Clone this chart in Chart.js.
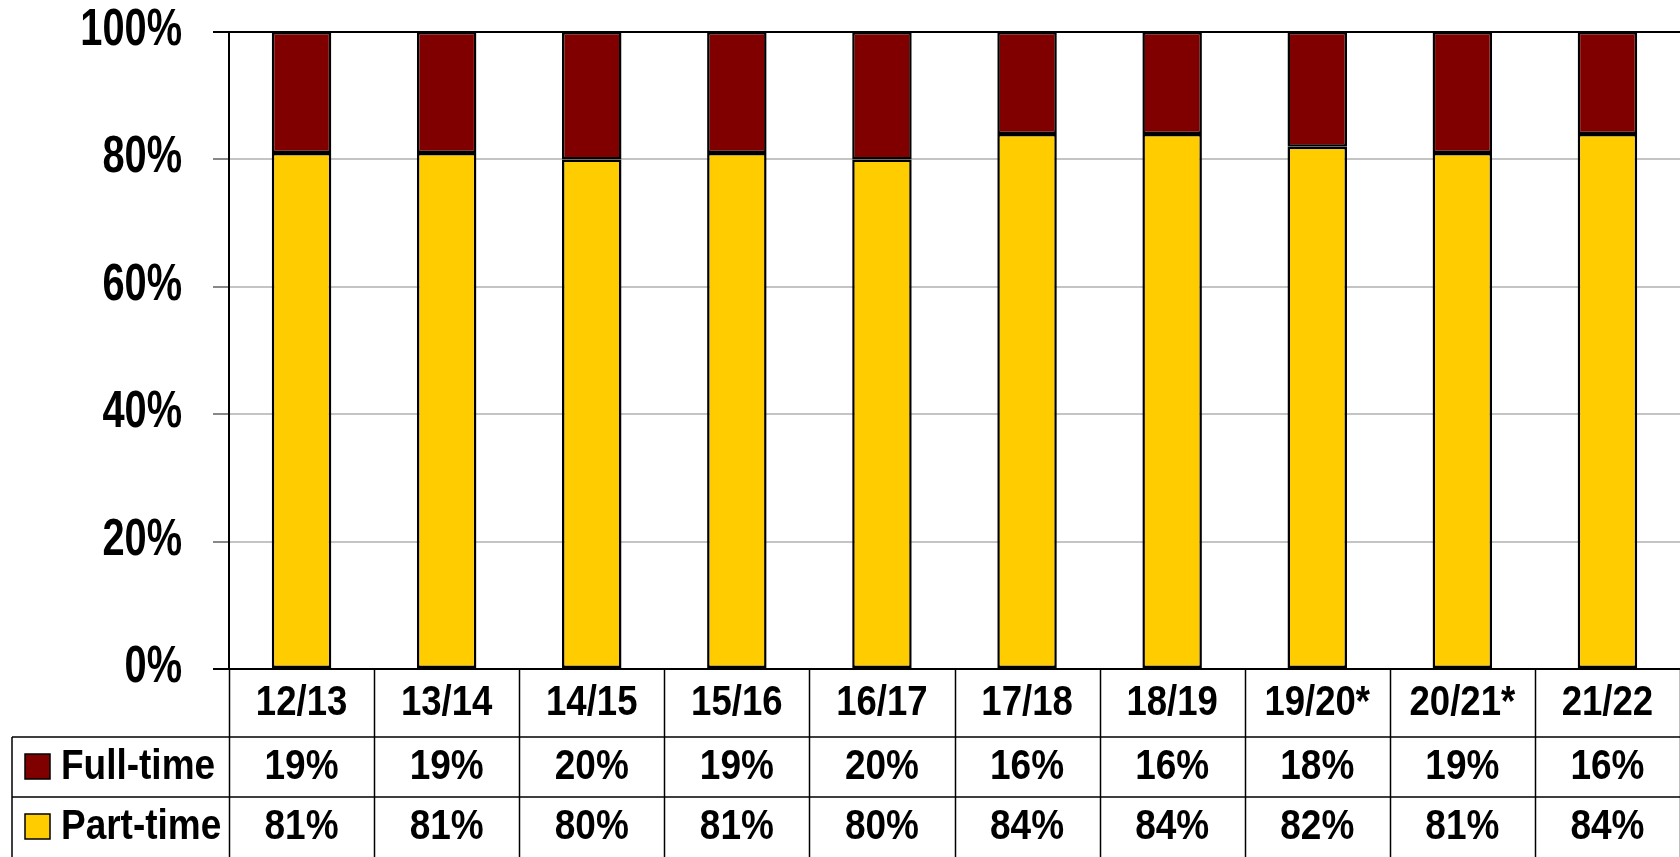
<!DOCTYPE html>
<html lang="en">
<head>
  <meta charset="UTF-8" />
  <title>Full-time / Part-time share</title>
  <script src="https://cdn.jsdelivr.net/npm/chart.js"></script>
  <style>
    body {
      margin: 0;
      background: #fff;
      overflow: hidden;
    }
    #wrap {
      width: 1680px;
      height: 857px;
      position: relative;
    }
  </style>
</head>
<body>
  <div id="wrap"><canvas id="shareChart"></canvas></div>

  <script>
    const categories = ['12/13', '13/14', '14/15', '15/16', '16/17', '17/18', '18/19', '19/20*', '20/21*', '21/22'];
    const fullTime = [19, 19, 20, 19, 20, 16, 16, 18, 19, 16];
    const partTime = [81, 81, 80, 81, 80, 84, 84, 82, 81, 84];
    const yTicks = [0, 20, 40, 60, 80, 100];

    const FONT = "'Liberation Sans', Arial, sans-serif";
    const RED = '#800000';
    const YELLOW = '#ffcc00';

    // narrow bold text (no Arial Narrow here, so squeeze Arial-metric glyphs)
    function narrowText(ctx, text, x, y, size, squeeze, align) {
      ctx.save();
      ctx.translate(x, y);
      ctx.scale(squeeze, 1);
      ctx.font = 'bold ' + size + 'px ' + FONT;
      ctx.textAlign = align;
      ctx.textBaseline = 'middle';
      ctx.fillStyle = '#000';
      ctx.fillText(text, 0, 0);
      ctx.restore();
    }

    // y labels + data table under the bars (categories, legend keys, values)
    const tablePlugin = {
      id: 'dataTable',
      afterDraw(chart) {
        const ctx = chart.ctx;
        const x = chart.scales.x;
        const y = chart.scales.y;
        const area = chart.chartArea;
        const top = area.bottom;
        const row1 = top + 68;
        const row2 = top + 128;
        const bottom = chart.height;
        const leftEdge = 12;
        const rightEdge = chart.width;
        const step = x.getPixelForValue(1) - x.getPixelForValue(0);

        // y tick labels
        y.ticks.forEach(t => {
          narrowText(ctx, t.value + '%', area.left - 47, y.getPixelForValue(t.value) - 1, 51, 0.78, 'right');
        });

        ctx.save();
        ctx.strokeStyle = '#000';
        ctx.lineWidth = 1.5;
        ctx.beginPath();
        ctx.moveTo(leftEdge, row1); ctx.lineTo(rightEdge, row1);
        ctx.moveTo(leftEdge, row2); ctx.lineTo(rightEdge, row2);
        ctx.moveTo(leftEdge, row1); ctx.lineTo(leftEdge, bottom);
        for (let i = 0; i <= categories.length; i++) {
          const bx = Math.round(x.getPixelForValue(i) - step / 2) + 0.5;
          ctx.moveTo(bx, top); ctx.lineTo(bx, bottom);
        }
        ctx.stroke();
        ctx.restore();

        // category row
        x.getLabels().forEach((lab, i) => {
          narrowText(ctx, lab, x.getPixelForValue(i), (top + row1) / 2, 43, 0.85, 'center');
        });

        const rows = [
          { label: 'Full-time', color: RED, values: fullTime, cy: (row1 + row2) / 2 },
          { label: 'Part-time', color: YELLOW, values: partTime, cy: (row2 + bottom) / 2 }
        ];
        rows.forEach(r => {
          ctx.save();
          ctx.fillStyle = r.color;
          ctx.fillRect(25, r.cy - 13, 25, 25);
          ctx.strokeStyle = '#000';
          ctx.lineWidth = 1.5;
          ctx.strokeRect(25, r.cy - 13, 25, 25);
          ctx.restore();
          narrowText(ctx, r.label, 61, r.cy, 43, 0.86, 'left');
          r.values.forEach((v, i) => {
            narrowText(ctx, v + '%', x.getPixelForValue(i), r.cy, 43, 0.86, 'center');
          });
        });
      }
    };

    new Chart(document.getElementById('shareChart'), {
      type: 'bar',
      data: {
        labels: categories,
        datasets: [
          {
            label: 'Part-time',
            data: partTime,
            backgroundColor: YELLOW,
            borderColor: '#000',
            borderWidth: 2.5,
            borderSkipped: false,
            barPercentage: 0.41,
            categoryPercentage: 1
          },
          {
            label: 'Full-time',
            data: fullTime,
            backgroundColor: RED,
            borderColor: '#000',
            borderWidth: 2.5,
            borderSkipped: false,
            barPercentage: 0.41,
            categoryPercentage: 1
          }
        ]
      },
      options: {
        responsive: true,
        maintainAspectRatio: false,
        animation: false,
        layout: { padding: { top: 32, left: 0, right: 0, bottom: 0 } },
        plugins: {
          legend: { display: false },
          tooltip: { enabled: false }
        },
        scales: {
          x: {
            stacked: true,
            grid: { display: false, drawTicks: false },
            border: { color: '#000', width: 2 },
            ticks: { display: false },
            afterFit(scale) { scale.height = 188; }
          },
          y: {
            stacked: true,
            min: 0,
            max: 100,
            afterBuildTicks(scale) { scale.ticks = yTicks.map(v => ({ value: v })); },
            grid: {
              color: ctx => (ctx.tick && (ctx.tick.value === 100 || ctx.tick.value === 0)) ? '#000' : '#c4c4c4',
              tickColor: ctx => (ctx.tick && (ctx.tick.value === 100 || ctx.tick.value === 0)) ? '#000' : '#888',
              lineWidth: 2,
              tickLength: 16
            },
            border: { color: '#000', width: 2 },
            ticks: { display: false },
            afterFit(scale) { scale.width = 229; }
          }
        }
      },
      plugins: [tablePlugin]
    });
  </script>
</body>
</html>
